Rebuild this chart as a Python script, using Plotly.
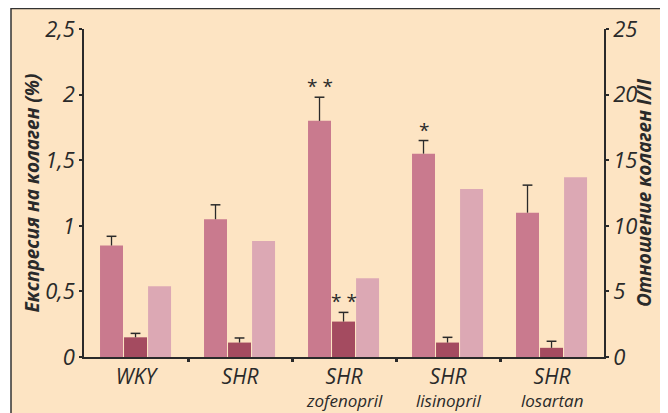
import plotly.graph_objects as go

categories = ["WKY", "SHR", "SHR", "SHR", "SHR"]
sublabels = ["", "", "zofenopril", "lisinopril", "losartan"]

# Left axis: collagen expression (%)
expr_a = [0.85, 1.05, 1.80, 1.55, 1.10]
expr_a_err_top = [0.92, 1.16, 1.98, 1.65, 1.31]
expr_b = [0.15, 0.11, 0.27, 0.11, 0.07]
expr_b_err_top = [0.18, 0.145, 0.34, 0.15, 0.12]
# Right axis: collagen I/III ratio
ratio = [5.4, 8.85, 6.0, 12.8, 13.7]

sig_a = ["", "", "* *", "*", ""]
sig_b = ["", "", "* *", "", ""]

left_title = "Експресия на колаген (%)"
right_title = "Отношение колаген I/II"

C1 = "#C97A8E"
C2 = "#A44B60"
C3 = "#DCA8B4"
BG = "#FDE4C3"
INK = "#2a2a2a"
FONT = "Open Sans"

xs = list(range(len(categories)))
W = 0.221
OFF = [-0.346, -0.115, 0.116]

fig = go.Figure()
fig.add_trace(go.Bar(x=xs, y=expr_a, width=W, offset=OFF[0], marker_color=C1,
                     marker_line_width=0, yaxis="y", showlegend=False))
fig.add_trace(go.Bar(x=xs, y=expr_b, width=W, offset=OFF[1], marker_color=C2,
                     marker_line_width=0, yaxis="y", showlegend=False))
fig.add_trace(go.Bar(x=xs, y=ratio, width=W, offset=OFF[2], marker_color=C3,
                     marker_line_width=0, yaxis="y2", showlegend=False))

# upward-only error bars: whisker from bar top to error top, cap at top
for vals, tops, k in [(expr_a, expr_a_err_top, 0), (expr_b, expr_b_err_top, 1)]:
    fig.add_trace(go.Scatter(
        x=[i + OFF[k] + W / 2 for i in xs], y=tops, mode="markers", yaxis="y",
        marker=dict(symbol="line-ew", size=7, line=dict(color=INK, width=1.5)),
        error_y=dict(type="data", symmetric=False, array=[0] * len(xs),
                     arrayminus=[t - v for t, v in zip(tops, vals)],
                     color=INK, thickness=1.3, width=0),
        showlegend=False, hoverinfo="skip"))

annotations = []
for sig, tops, k in [(sig_a, expr_a_err_top, 0), (sig_b, expr_b_err_top, 1)]:
    for i, s in enumerate(sig):
        if s:
            annotations.append(dict(x=i + OFF[k] + W / 2, y=tops[i], xref="x", yref="y",
                                    text=s, showarrow=False, yanchor="bottom", yshift=-4,
                                    font=dict(family=FONT, size=19, color=INK)))
for i, s in enumerate(sublabels):
    if s:
        annotations.append(dict(x=i, y=0, xref="x", yref="paper", text="<i>" + s + "</i>",
                                showarrow=False, yanchor="top", yshift=-30,
                                font=dict(family=FONT, size=17, color=INK)))
annotations.append(dict(x=1, y=0.5, xref="paper", yref="paper", xanchor="center",
                        yanchor="middle", xshift=40, textangle=-90, showarrow=False,
                        text="<b><i>" + right_title + "</i></b>",
                        font=dict(family=FONT, size=19, color=INK)))

# the page body adds an 8px offset; figure is sized to fill the remaining window
fig.update_layout(
    width=660, height=405,
    margin=dict(l=76, r=64, t=21, b=56, autoexpand=False),
    paper_bgcolor="white",
    plot_bgcolor="rgba(0,0,0,0)",
    separators=", ",
    barmode="overlay",
    font=dict(family=FONT, color=INK),
    annotations=annotations,
    shapes=[dict(type="rect", xref="paper", yref="paper", layer="below",
                 x0=-73 / 520, x1=580 / 520, y0=-0.3, y1=348.5 / 328,
                 fillcolor=BG, line=dict(color="#333333", width=1.5))],
    xaxis=dict(
        range=[-0.5, 4.5], tickvals=xs, automargin=False,
        ticktext=["<i>" + c + "</i>" for c in categories],
        tickfont=dict(family=FONT, size=21, color=INK),
        ticks="", showline=True, linecolor=INK, linewidth=1.5,
        showgrid=False, zeroline=False, fixedrange=True,
        minor=dict(tickvals=[0.5, 1.5, 2.5, 3.5], ticks="outside", ticklen=3,
                   tickwidth=3, tickcolor=INK, showgrid=False),
    ),
    yaxis=dict(
        range=[0, 2.5], tickvals=[0, 0.5, 1, 1.5, 2, 2.5], automargin=False,
        ticktext=["<i>0</i>", "<i>0,5</i>", "<i>1</i>", "<i>1,5</i>", "<i>2</i>", "<i>2,5</i>"],
        tickfont=dict(family=FONT, size=22, color=INK),
        ticks="outside", ticklen=3, tickwidth=2, tickcolor=INK,
        showline=True, linecolor=INK, linewidth=1.5, showgrid=False, zeroline=False,
        title=dict(text="<b><i>" + left_title + "</i></b>", standoff=0,
                   font=dict(family=FONT, size=19, color=INK)),
    ),
    yaxis2=dict(
        range=[0, 25], tickvals=[0, 5, 10, 15, 20, 25], automargin=False,
        ticktext=["<i>0</i>", "<i>5</i>", "<i>10</i>", "<i>15</i>", "<i>20</i>", "<i>25</i>"],
        overlaying="y", side="right",
        tickfont=dict(family=FONT, size=22, color=INK),
        ticks="outside", ticklen=3, tickwidth=2, tickcolor=INK,
        showline=True, linecolor=INK, linewidth=1.5, showgrid=False, zeroline=False,
    ),
)

fig.write_html("out.html")
